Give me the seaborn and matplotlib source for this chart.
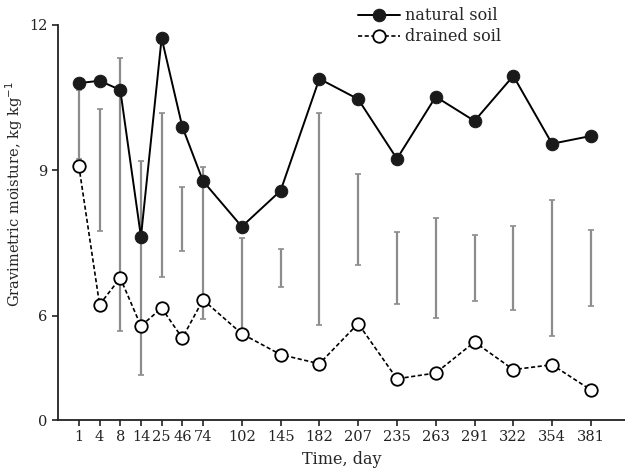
import numpy as np
import pandas as pd
import seaborn as sns
import matplotlib
matplotlib.use("Agg")
import matplotlib.pyplot as plt

# data
days = ["1", "4", "8", "14", "25", "46", "74", "102", "145", "182",
        "207", "235", "263", "291", "322", "354", "381"]
natural = [10.80, 10.85, 10.66, 7.63, 11.73, 9.90, 8.78, 7.84, 8.58, 10.89,
           10.47, 9.24, 10.52, 10.02, 10.95, 9.55, 9.71]
drained = [9.09, 6.23, 6.78, 5.79, 6.16, 5.54, 6.33, 5.63, 5.20, 5.01,
           5.84, 4.70, 4.82, 5.46, 4.89, 4.99, 4.47]
bar_top = [10.66, 10.27, 11.31, 9.20, 10.19, 8.66, 9.06, 7.61, 7.38, 10.19,
           8.93, 7.72, 8.02, 7.67, 7.86, 8.39, 7.77]
bar_bottom = [9.24, 7.74, 5.69, 4.78, 6.80, 7.33, 5.94, 5.71, 6.60, 5.81,
              7.05, 6.25, 5.96, 6.31, 6.12, 5.59, 6.21]

# x positions: early days drawn closer together
gaps = [0] + [1] * 6 + [1.875] * 10
xpos = np.cumsum(gaps)

sns.set_theme(style="ticks")
plt.rcParams["font.family"] = ["DejaVu Serif"]
plt.rcParams["font.size"] = 10

fig = plt.figure(figsize=(6.25, 4.73), dpi=100)
ax = fig.add_axes([58 / 625, 53 / 473, 1 - 58 / 625, (420 - 25) / 473])

# grey range bars
mid = (np.array(bar_top) + np.array(bar_bottom)) / 2
half = (np.array(bar_top) - np.array(bar_bottom)) / 2
ax.errorbar(xpos, mid, yerr=half, fmt="none", ecolor="#8c8c8c",
            elinewidth=1.6, capsize=2.5, capthick=1.2, zorder=1)

df = pd.DataFrame({"x": xpos, "natural": natural, "drained": drained})
sns.lineplot(data=df, x="x", y="natural", ax=ax, color="black", lw=1.4,
             marker="o", markersize=9, markerfacecolor="#1a1a1a",
             markeredgecolor="#1a1a1a", label="natural soil", zorder=3)
sns.lineplot(data=df, x="x", y="drained", ax=ax, color="black", lw=1.2,
             linestyle=(0, (2.5, 1.5)), marker="o", markersize=9,
             markerfacecolor="white", markeredgecolor="black",
             markeredgewidth=1.3, label="drained soil", zorder=3)

# broken y axis: bottom of the axis is labelled 0
ymin = 3.85
ax.set_ylim(ymin, 12)
ax.set_xlim(-1.01, 26.4)
ax.set_yticks([ymin, 6, 9, 12])
ax.set_yticklabels(["0", "6", "9", "12"])
ax.set_xticks(xpos)
ax.set_xticklabels(days)
ax.tick_params(axis="both", direction="out", length=4, width=1.2,
               labelsize=10.5, colors="#222222")
for s in ["left", "bottom"]:
    ax.spines[s].set_linewidth(1.3)
    ax.spines[s].set_color("#222222")
sns.despine(ax=ax)
ax.set_xlabel("Time, day", fontsize=11.5, labelpad=5)
ax.set_ylabel("Gravimetric moisture, kg kg$^{-1}$", fontsize=10.5)
ax.yaxis.set_label_coords(-0.058, 0.572)

ax.get_legend().remove()
handles, labels = ax.get_legend_handles_labels()
fig.legend(handles, labels, loc="upper left",
           bbox_to_anchor=(352 / 625, 1 - 1 / 473), frameon=False,
           fontsize=11.5, handlelength=2.6, handletextpad=0.3,
           labelspacing=0.25, borderaxespad=0)

fig.savefig("out.png", dpi=100)
